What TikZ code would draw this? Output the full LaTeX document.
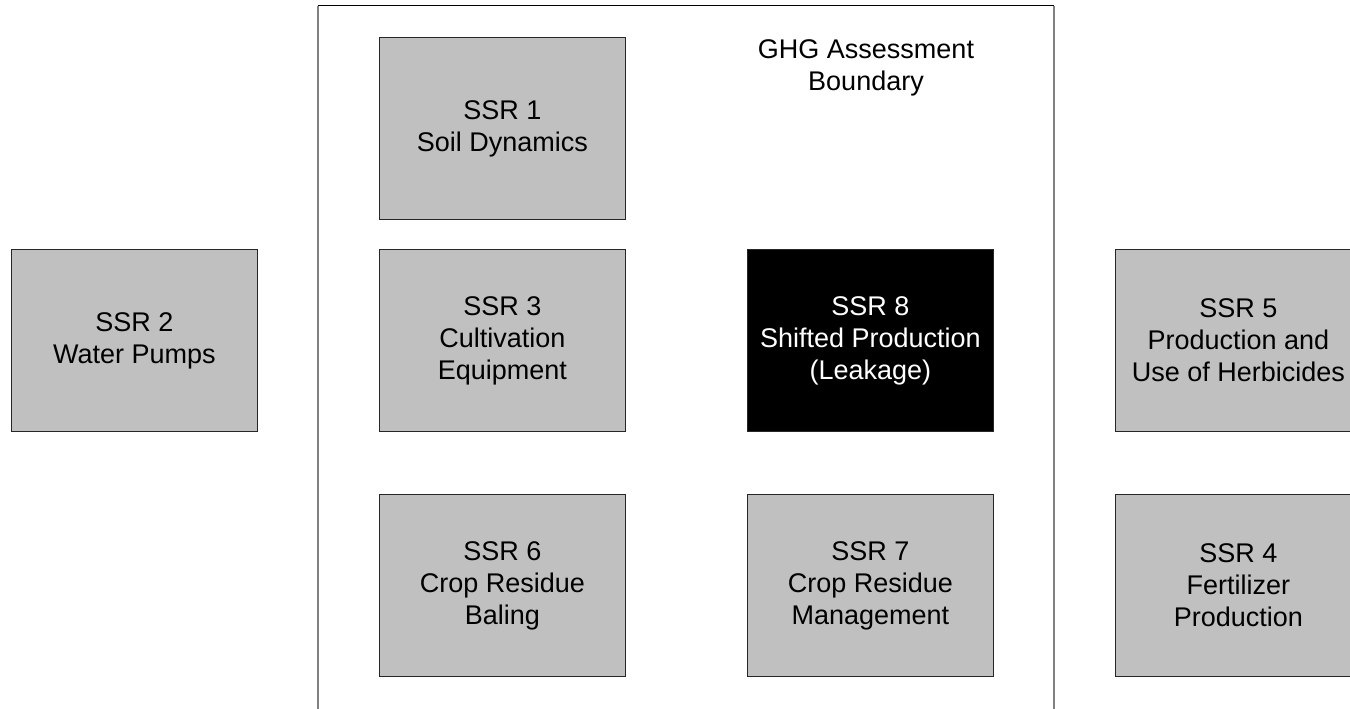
\documentclass[tikz,border=0pt]{standalone}
\usepackage{fontspec}
\setmainfont{Liberation Sans}
\begin{document}
\begin{tikzpicture}[x=1pt,y=-1pt,
  ssr/.style={draw=black!85, line width=0.9pt, fill=ssrgray, minimum width=246pt,
    minimum height=182pt, inner sep=0pt, anchor=north west, align=center,
    font=\fontsize{27}{32}\selectfont},
  leak/.style={ssr, fill=black, text=white},
  label/.style={align=center, font=\fontsize{27}{32}\selectfont}]
\definecolor{ssrgray}{HTML}{C0C0C0}
\useasboundingbox (0,0) rectangle (1350,709);
\fill[white] (0,0) rectangle (1350,709);
% assessment boundary, open at the bottom
\coordinate (bl) at (318,709);
\coordinate (tl) at (318,6);
\coordinate (tr) at (1054,6);
\coordinate (br) at (1054,709);
\draw[black!50, line width=1.3pt] (bl) -- (tl);
\draw[black!50, line width=1.3pt] (tr) -- (br);
\draw[black, line width=1pt] (tl) -- (tr);
\node[label] (title) at (866,68) {GHG Assessment\\Boundary};
% sources, sinks and reservoirs
\node[ssr] (s1) at (379,37) {SSR 1\\Soil Dynamics};
\node[ssr] (s2) at (11,249) {SSR 2\\Water Pumps};
\node[ssr] (s3) at (379,249) {SSR 3\\Cultivation\\Equipment};
\node[leak] (s8) at (747,249) {SSR 8\\Shifted Production\\(Leakage)};
\node[ssr] (s5) at (1115,249) {SSR 5\\Production and\\Use of Herbicides};
\node[ssr] (s6) at (379,494) {SSR 6\\Crop Residue\\Baling};
\node[ssr] (s7) at (747,494) {SSR 7\\Crop Residue\\Management};
\node[ssr] (s4) at (1115,494) {SSR 4\\Fertilizer\\Production};
\end{tikzpicture}
\end{document}
